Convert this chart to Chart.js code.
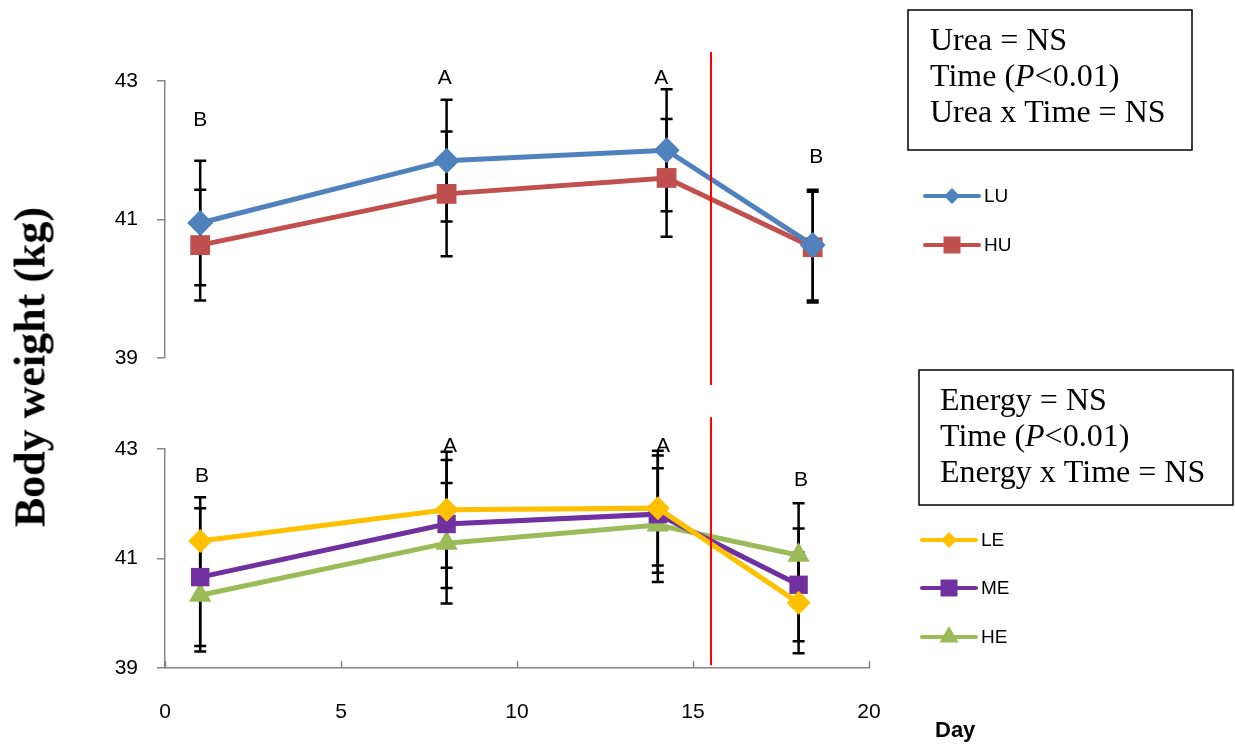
<!DOCTYPE html>
<html>
<head>
<meta charset="utf-8">
<script src="https://cdn.jsdelivr.net/npm/chart.js@4"></script>
<style>
  body { margin: 0; background: #fff; }
  #wrap { position: relative; width: 1235px; height: 748px; }
  canvas { position: absolute; left: 0; top: 0; }
  #ytitle {
    position: absolute; left: 30px; top: 367px;
    transform: translate(-50%, -50%) rotate(-90deg);
    font: bold 44px "Liberation Serif", "Times New Roman", serif;
    white-space: nowrap;
  }
</style>
</head>
<body>
<div id="wrap">
  <canvas id="topChart" width="1235" height="748"></canvas>
  <canvas id="bottomChart" width="1235" height="748"></canvas>
  <div id="ytitle">Body weight (kg)</div>
</div>
<script>
// urea panel
const ureaDays = [1, 8, 14.25, 18.4];
const luWeight = [40.95, 41.85, 42.0, 40.63];
const luSE = [0.9, 0.88, 0.88, 0.8];
const huWeight = [40.63, 41.37, 41.6, 40.6];
const huSE = [0.8, 0.9, 0.85, 0.8];
const ureaLetters = ['B', 'A', 'A', 'B'];
const ureaLetterX = [1, 7.95, 14.1, 18.5];
const ureaLetterY = [42.44, 43.04, 43.04, 41.9];
const ureaCut = [38.61, 43.42];

// energy panel
const energyDays = [1, 8, 14, 18];
const leWeight = [41.32, 41.89, 41.92, 40.19];
const leSE = [0.8, 1.06, 1.05, 0.92];
const meWeight = [40.66, 41.63, 41.81, 40.52];
const meSE = [1.26, 1.17, 1.07, 1.03];
const heWeight = [40.33, 41.28, 41.61, 41.06];
const heSE = [1.03, 1.1, 1.04, 0.95];
const energyLetters = ['B', 'A', 'A', 'B'];
const energyLetterX = [1.05, 8.1, 14.15, 18.07];
const energyLetterY = [42.51, 43.05, 43.05, 42.43];
const energyCut = [39.05, 43.58];

const yTicks = [39, 41, 43];
const xTicks = [0, 5, 10, 15, 20];
const cutDay = 15.5;

const AXIS = '#868686';
const SANS = '"Liberation Sans", Arial, sans-serif';
const SERIF = '"Liberation Serif", "Times New Roman", serif';

function series(label, days, vals, se, color, style, r, lr) {
  return {
    label: label,
    data: days.map((d, i) => ({ x: d, y: vals[i] })),
    se: se,
    legendRadius: lr,
    borderColor: color,
    backgroundColor: color,
    borderWidth: 5,
    pointStyle: style,
    pointRadius: r,
    pointHoverRadius: r,
    pointBorderWidth: 0,
    tension: 0
  };
}

function drawMarker(ctx, style, x, y, r, color) {
  ctx.save();
  ctx.fillStyle = color;
  ctx.beginPath();
  if (style === 'rectRot') {
    ctx.moveTo(x - r, y); ctx.lineTo(x, y - r); ctx.lineTo(x + r, y); ctx.lineTo(x, y + r);
  } else if (style === 'rect') {
    const s = r * Math.SQRT1_2;
    ctx.rect(x - s, y - s, 2 * s, 2 * s);
  } else {
    const w = r * Math.sqrt(3) / 2;
    ctx.moveTo(x, y - r); ctx.lineTo(x + w, y + r / 2); ctx.lineTo(x - w, y + r / 2);
  }
  ctx.closePath();
  ctx.fill();
  ctx.restore();
}

// error bars, drawn under the lines and markers
const errorBars = {
  id: 'errorBars',
  beforeDatasetsDraw(chart) {
    const ctx = chart.ctx, xs = chart.scales.x, ys = chart.scales.y;
    ctx.save();
    ctx.strokeStyle = '#000';
    ctx.lineWidth = 2.5;
    chart.data.datasets.forEach(ds => {
      ds.data.forEach((p, i) => {
        const px = xs.getPixelForValue(p.x);
        const hi = ys.getPixelForValue(p.y + ds.se[i]);
        const lo = ys.getPixelForValue(p.y - ds.se[i]);
        ctx.beginPath();
        ctx.moveTo(px, hi); ctx.lineTo(px, lo);
        ctx.moveTo(px - 6, hi); ctx.lineTo(px + 6, hi);
        ctx.moveTo(px - 6, lo); ctx.lineTo(px + 6, lo);
        ctx.stroke();
      });
    });
    ctx.restore();
  }
};

// letters, cut line, legend and the stats box
const extras = {
  id: 'extras',
  afterDraw(chart, args, o) {
    const ctx = chart.ctx, xs = chart.scales.x, ys = chart.scales.y;
    ctx.save();
    ctx.fillStyle = '#000';
    ctx.font = '21px ' + SANS;
    ctx.textAlign = 'center';
    ctx.textBaseline = 'middle';
    o.letters.forEach((t, i) => {
      ctx.fillText(t, xs.getPixelForValue(o.letterX[i]), ys.getPixelForValue(o.letterY[i]));
    });

    // red line
    ctx.strokeStyle = '#ff0000';
    ctx.lineWidth = 2;
    const cx = Math.round(xs.getPixelForValue(cutDay));
    ctx.beginPath();
    ctx.moveTo(cx, ys.getPixelForValue(o.cut[1]));
    ctx.lineTo(cx, ys.getPixelForValue(o.cut[0]));
    ctx.stroke();

    // legend
    chart.data.datasets.forEach((ds, i) => {
      const y = o.legendY[i];
      ctx.strokeStyle = ds.borderColor;
      ctx.lineWidth = 4;
      ctx.lineCap = 'round';
      ctx.beginPath();
      ctx.moveTo(o.legendX, y); ctx.lineTo(o.legendX + 54, y);
      ctx.stroke();
      drawMarker(ctx, ds.pointStyle, o.legendX + 27, y, ds.legendRadius, ds.borderColor);
      ctx.fillStyle = '#000';
      ctx.font = '19px ' + SANS;
      ctx.textAlign = 'left';
      ctx.textBaseline = 'middle';
      ctx.fillText(ds.label, o.legendX + 59, y + 1);
    });

    // stats box
    const b = o.box;
    ctx.strokeStyle = '#000';
    ctx.lineWidth = 1.5;
    ctx.lineCap = 'butt';
    ctx.strokeRect(b.x, b.y, b.w, b.h);
    ctx.textAlign = 'left';
    ctx.textBaseline = 'alphabetic';
    b.lines.forEach((segs, i) => {
      let x = b.tx;
      segs.forEach(s => {
        ctx.font = (s.it ? 'italic ' : '') + '32px ' + SERIF;
        ctx.fillText(s.t, x, b.ty + i * 36);
        x += ctx.measureText(s.t).width;
      });
    });

    if (o.day) {
      ctx.font = 'bold 22px ' + SANS;
      ctx.fillText('Day', 935, 737);
    }
    ctx.restore();
  }
};

// inside x ticks like the original
const xTickMarks = {
  id: 'xTickMarks',
  afterDraw(chart) {
    const xs = chart.scales.x;
    if (!xs.options.display) return;
    const ctx = chart.ctx, y = chart.chartArea.bottom;
    ctx.save();
    ctx.strokeStyle = AXIS;
    ctx.lineWidth = 1.5;
    xs.ticks.forEach(t => {
      const px = Math.round(xs.getPixelForValue(t.value)) + 0.5;
      ctx.beginPath(); ctx.moveTo(px, y); ctx.lineTo(px, y - 7); ctx.stroke();
    });
    ctx.restore();
  }
};

function yScale() {
  return {
    min: 39, max: 43,
    afterBuildTicks: s => { s.ticks = yTicks.map(v => ({ value: v })); },
    afterFit: s => { s.width = 165; },
    border: { display: true, color: AXIS, width: 1.5 },
    grid: { display: true, drawOnChartArea: false, drawTicks: true, tickLength: 8, color: AXIS, lineWidth: 1.5 },
    ticks: { padding: 19, color: '#000', font: { size: 21, family: SANS } }
  };
}

function makePanel(id, datasets, xOpts, padding, extraOpts) {
  return new Chart(document.getElementById(id), {
    type: 'line',
    data: { datasets: datasets },
    options: {
      responsive: false,
      animation: false,
      events: [],
      layout: { padding: padding },
      plugins: { legend: { display: false }, tooltip: { enabled: false }, extras: extraOpts },
      scales: { x: xOpts, y: yScale() }
    },
    plugins: [errorBars, xTickMarks, extras]
  });
}

makePanel('topChart', [
  series('LU', ureaDays, luWeight, luSE, '#4F81BD', 'rectRot', 13, 8),
  series('HU', ureaDays, huWeight, huSE, '#C0504D', 'rect', 14, 12)
], { type: 'linear', display: false, min: 0, max: 20 },
{ top: 81, bottom: 390, left: 0, right: 366 },
{
  letters: ureaLetters, letterX: ureaLetterX, letterY: ureaLetterY, cut: ureaCut,
  legendX: 925, legendY: [196, 245],
  box: { x: 908, y: 10, w: 284, h: 140, tx: 930, ty: 50, lines: [
    [{ t: 'Urea = NS' }],
    [{ t: 'Time (' }, { t: 'P', it: true }, { t: '<0.01)' }],
    [{ t: 'Urea x Time = NS' }]
  ] }
});

makePanel('bottomChart', [
  series('LE', energyDays, leWeight, leSE, '#FFC000', 'rectRot', 12, 8),
  series('ME', energyDays, meWeight, meSE, '#7030A0', 'rect', 13, 12),
  series('HE', energyDays, heWeight, heSE, '#9BBB59', 'triangle', 13, 11)
], {
  type: 'linear', min: 0, max: 20,
  afterBuildTicks: s => { s.ticks = xTicks.map(v => ({ value: v })); },
  afterFit: s => { s.height = 80; },
  border: { display: true, color: AXIS, width: 1.5 },
  grid: { display: false, drawTicks: false },
  ticks: { padding: 32, color: '#000', font: { size: 21, family: SANS } }
},
{ top: 449, bottom: 0, left: 0, right: 366 },
{
  letters: energyLetters, letterX: energyLetterX, letterY: energyLetterY, cut: energyCut,
  legendX: 922, legendY: [540, 588, 637], day: true,
  box: { x: 919, y: 370, w: 314, h: 135, tx: 940, ty: 410, lines: [
    [{ t: 'Energy = NS' }],
    [{ t: 'Time (' }, { t: 'P', it: true }, { t: '<0.01)' }],
    [{ t: 'Energy x Time = NS' }]
  ] }
});
</script>
</body>
</html>
